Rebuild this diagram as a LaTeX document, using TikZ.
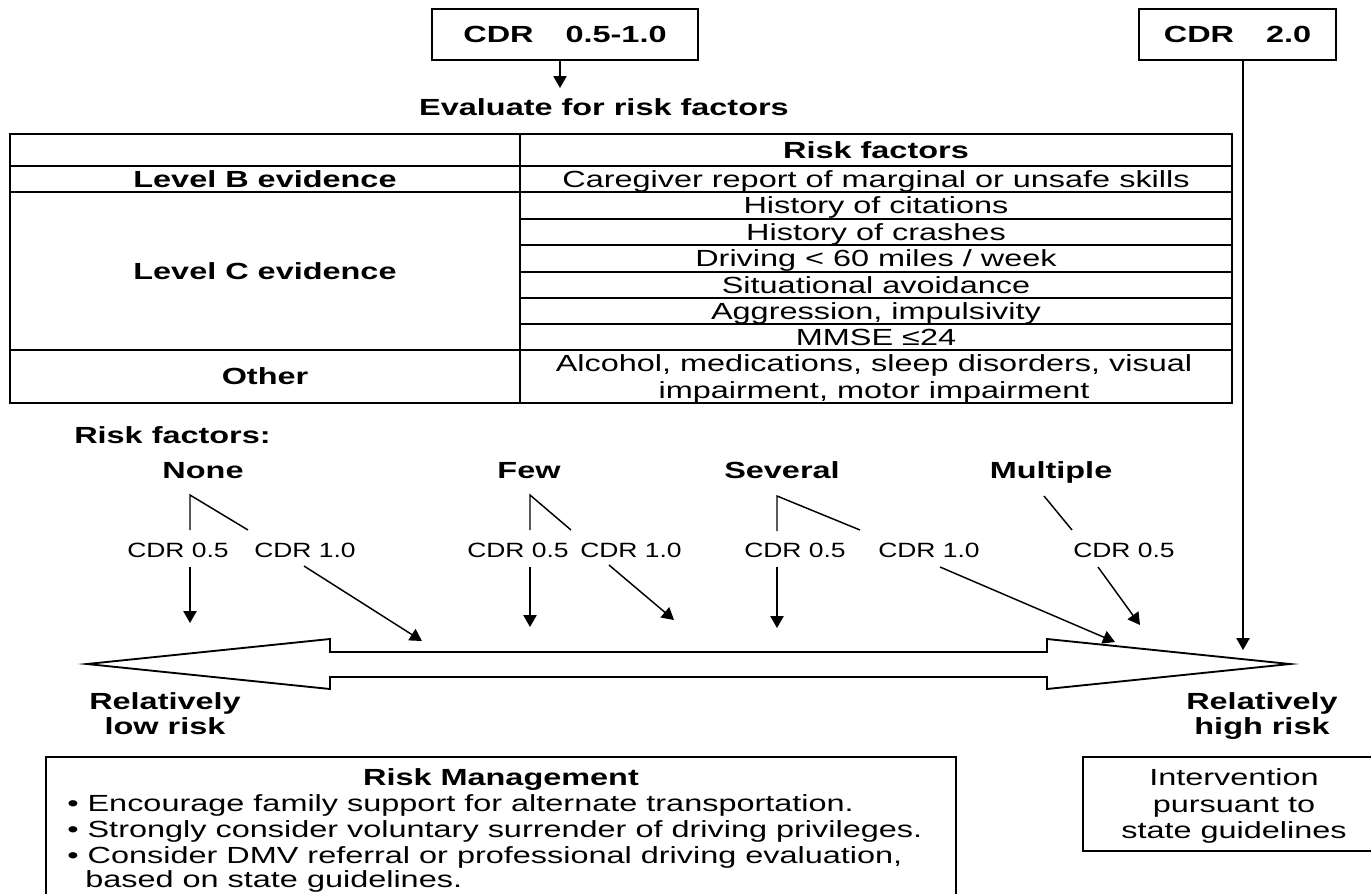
\documentclass[tikz,border=0pt]{standalone}
\usepackage{fontspec}
\setmainfont{Liberation Sans}[FakeStretch=1.39]
\newfontfamily\cdrfont{Liberation Sans}[FakeStretch=1.28]
\usetikzlibrary{arrows.meta}
\newcommand{\mainsz}{\fontsize{17.5pt}{20pt}\selectfont}
\begin{document}
\begin{tikzpicture}[x=0.75pt,y=-0.75pt,
  txt/.style={inner sep=0pt, text height=12.5pt, text depth=0pt, font=\mainsz},
  btxt/.style={inner sep=0pt, text height=12.5pt, text depth=0pt, font=\mainsz\bfseries},
  cdr/.style={inner sep=0pt, text height=11.1pt, text depth=0pt, font=\cdrfont\fontsize{15.5pt}{18pt}\selectfont},
  box/.style={draw, line width=1.4pt, inner sep=0pt, font=\mainsz\bfseries},
  grid/.style={line width=1.4pt},
  ln/.style={line width=1.1pt},
  arr/.style={line width=1.1pt, -{Triangle[width=10pt,length=9pt]}}]
\useasboundingbox (0,0) rectangle (1371,893);

% top boxes
\node[box, minimum width=199.5pt, minimum height=38.25pt] (box1) at (565,34.5) {CDR\hspace{24pt}0.5-1.0};
\node[box, minimum width=147.75pt, minimum height=38.25pt] (box2) at (1237.5,34.5) {CDR\hspace{24pt}2.0};
\node[btxt] (eval) at (604,107.5) {Evaluate for risk factors};
\coordinate (e1) at (560,88);
\draw[arr] (box1.south -| e1) -- (e1);

% table
\draw[grid] (10,134) rectangle (1232,403);
\draw[grid] (520,134) -- (520,403);
\foreach \yy in {166,192,350} \draw[grid] (10,\yy) -- (1232,\yy);
\foreach \yy in {219,245,272,298,324} \draw[grid] (520,\yy) -- (1232,\yy);
\node[btxt] (hrf) at (876,150) {Risk factors};
\node[btxt] (lb) at (265,179) {Level B evidence};
\node[btxt] (lc) at (265,271) {Level C evidence};
\node[btxt] (lo) at (265,376.5) {Other};
\node[txt] (r1) at (876,179) {Caregiver report of marginal or unsafe skills};
\node[txt] (r2) at (876,205.5) {History of citations};
\node[txt] (r3) at (876,232) {History of crashes};
\node[txt] (r4) at (876,258.5) {Driving < 60 miles / week};
\node[txt] (r5) at (876,285) {Situational avoidance};
\node[txt] (r6) at (876,311) {Aggression, impulsivity};
\node[txt] (r7) at (876,337) {MMSE ≤24};
\node[txt] (r8a) at (874,363.5) {Alcohol, medications, sleep disorders, visual};
\node[txt] (r8b) at (874,390) {impairment, motor impairment};

% risk factor labels
\node[btxt, anchor=west] (rfl) at (74,435) {Risk factors:};
\node[btxt] (none) at (203,470) {None};
\node[btxt] (few) at (529,470) {Few};
\node[btxt] (sev) at (782,470) {Several};
\node[btxt] (mult) at (1051,470) {Multiple};

\node[cdr] (n05) at (178,550) {CDR 0.5};
\node[cdr] (n10) at (305,550) {CDR 1.0};
\node[cdr] (f05) at (518,550) {CDR 0.5};
\node[cdr] (f10) at (631,550) {CDR 1.0};
\node[cdr] (s05) at (795,550) {CDR 0.5};
\node[cdr] (s10) at (929,550) {CDR 1.0};
\node[cdr] (m05) at (1124,550) {CDR 0.5};

% branch points
\coordinate (nt) at (190,495); \coordinate (nv) at (190,530); \coordinate (nd) at (248,530);
\coordinate (ft) at (530,495); \coordinate (fv) at (530,530); \coordinate (fd) at (571,530);
\coordinate (st) at (777,496); \coordinate (sv) at (777,531); \coordinate (sd) at (860,530);
\coordinate (mt) at (1044,496); \coordinate (md) at (1072,530);
\draw[ln] (nv) -- (nt) -- (nd);
\draw[ln] (fv) -- (ft) -- (fd);
\draw[ln] (sv) -- (st) -- (sd);
\draw[ln] (mt) -- (md);

% big double arrow
\draw[line width=1.4pt, fill=white] (87,664) -- (330,639) -- (330,652) -- (1047,652) -- (1047,639)
  -- (1290,664) -- (1047,689) -- (1047,677) -- (330,677) -- (330,689) -- cycle;

% arrows to scale
\coordinate (a1s) at (190,567); \coordinate (a1e) at (190,623);
\coordinate (a2s) at (304,566); \coordinate (a2e) at (422,641);
\coordinate (a3s) at (530,567); \coordinate (a3e) at (530,627);
\coordinate (a4s) at (609,565); \coordinate (a4e) at (674,620);
\coordinate (a5s) at (777,567); \coordinate (a5e) at (777,628);
\coordinate (a6s) at (940,567); \coordinate (a6e) at (1115,642);
\coordinate (a7s) at (1098,567); \coordinate (a7e) at (1140,625);
\draw[arr] (a1s) -- (a1e);
\draw[arr] (a2s) -- (a2e);
\draw[arr] (a3s) -- (a3e);
\draw[arr] (a4s) -- (a4e);
\draw[arr] (a5s) -- (a5e);
\draw[arr] (a6s) -- (a6e);
\draw[arr] (a7s) -- (a7e);
\coordinate (c2) at (1243,650);
\draw[arr] (box2.south -| c2) -- (c2);

% ends
\node[btxt] (lowa) at (165,701) {Relatively};
\node[btxt] (lowb) at (165,726) {low risk};
\node[btxt] (higha) at (1262,701) {Relatively};
\node[btxt] (highb) at (1262,726) {high risk};

% bottom boxes
\draw[line width=1.2pt] (46,905) -- (46,757) -- (956,757) -- (956,905);
\node[btxt] (rmt) at (501,777.5) {Risk Management};
\node[txt, anchor=west] (b1) at (67,803.5) {• Encourage family support for alternate transportation.};
\node[txt, anchor=west] (b2) at (67,829.5) {• Strongly consider voluntary surrender of driving privileges.};
\node[txt, anchor=west] (b3) at (67,855) {• Consider DMV referral or professional driving evaluation,};
\node[txt, anchor=west] (b4) at (85,879.5) {based on state guidelines.};

\draw[line width=1.2pt] (1385,757) -- (1083,757) -- (1083,851) -- (1385,851);
\node[txt] (i1) at (1234,777.5) {Intervention};
\node[txt] (i2) at (1234,804) {pursuant to};
\node[txt] (i3) at (1234,830.5) {state guidelines};
\end{tikzpicture}
\end{document}
